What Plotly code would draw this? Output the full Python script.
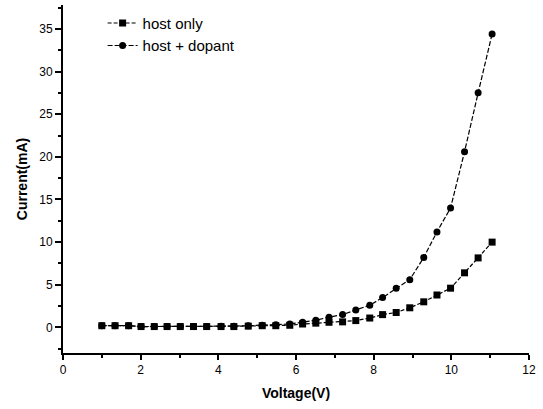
import plotly.graph_objects as go

voltage = [1.0, 1.34, 1.69, 2.01, 2.35, 2.68, 3.02, 3.36, 3.70, 4.07,
           4.40, 4.77, 5.13, 5.48, 5.84, 6.17, 6.51, 6.85, 7.20, 7.54,
           7.90, 8.23, 8.58, 8.93, 9.29, 9.63, 9.98, 10.34, 10.69, 11.05]

host_only = [0.2, 0.2, 0.2, 0.1, 0.1, 0.1, 0.1, 0.1, 0.1, 0.1,
             0.1, 0.15, 0.2, 0.2, 0.25, 0.4, 0.5, 0.6, 0.65, 0.8,
             1.1, 1.5, 1.75, 2.3, 3.0, 3.8, 4.6, 6.4, 8.15, 10.0]

host_dopant = [0.2, 0.2, 0.2, 0.1, 0.1, 0.1, 0.1, 0.1, 0.1, 0.15,
               0.15, 0.2, 0.25, 0.3, 0.4, 0.6, 0.85, 1.2, 1.5, 2.05,
               2.6, 3.5, 4.6, 5.6, 8.2, 11.2, 14.0, 20.6, 27.5, 34.4]

FONT = "Liberation Sans, Arial, sans-serif"

fig = go.Figure()
fig.add_trace(go.Scatter(
    x=voltage, y=host_only, name="host only", mode="lines+markers",
    line=dict(color="black", width=1.2, dash="4px,2px"),
    marker=dict(symbol="square", size=7, color="black"),
))
fig.add_trace(go.Scatter(
    x=voltage, y=host_dopant, name="host + dopant", mode="lines+markers",
    line=dict(color="black", width=1.2, dash="5px,2px"),
    marker=dict(symbol="circle", size=7, color="black"),
))

fig.update_layout(
    width=543, height=409,
    margin=dict(l=63, r=14, t=5, b=56),
    plot_bgcolor="white", paper_bgcolor="white",
    font=dict(family=FONT, color="black"),
    showlegend=True,
    legend=dict(x=0.085, y=0.995, xanchor="left", yanchor="top",
                font=dict(size=15, family=FONT, color="black"),
                bgcolor="rgba(0,0,0,0)", tracegroupgap=2, itemwidth=30),
    xaxis=dict(
        range=[0, 12], tick0=0, dtick=2, showgrid=False, zeroline=False,
        showline=True, linecolor="black", linewidth=2,
        ticks="outside", ticklen=5, tickwidth=1.5, tickcolor="black",
        minor=dict(ticks="outside", ticklen=3, dtick=1, tickcolor="black", tickwidth=1.5),
        tickfont=dict(size=12, family=FONT, color="black"),
        title=dict(text="<b>Voltage(V)</b>", font=dict(size=14, family=FONT), standoff=12),
    ),
    yaxis=dict(
        range=[-3, 37.8], tick0=0, dtick=5, showgrid=False, zeroline=False,
        showline=True, linecolor="black", linewidth=2,
        ticks="outside", ticklen=6, tickwidth=1.5, tickcolor="black",
        minor=dict(ticks="outside", ticklen=3, dtick=2.5, tickcolor="black", tickwidth=1.5),
        tickfont=dict(size=12, family=FONT, color="black"),
        title=dict(text="<b>Current(mA)</b>", font=dict(size=14, family=FONT), standoff=8),
    ),
)

fig.write_html("out.html")
